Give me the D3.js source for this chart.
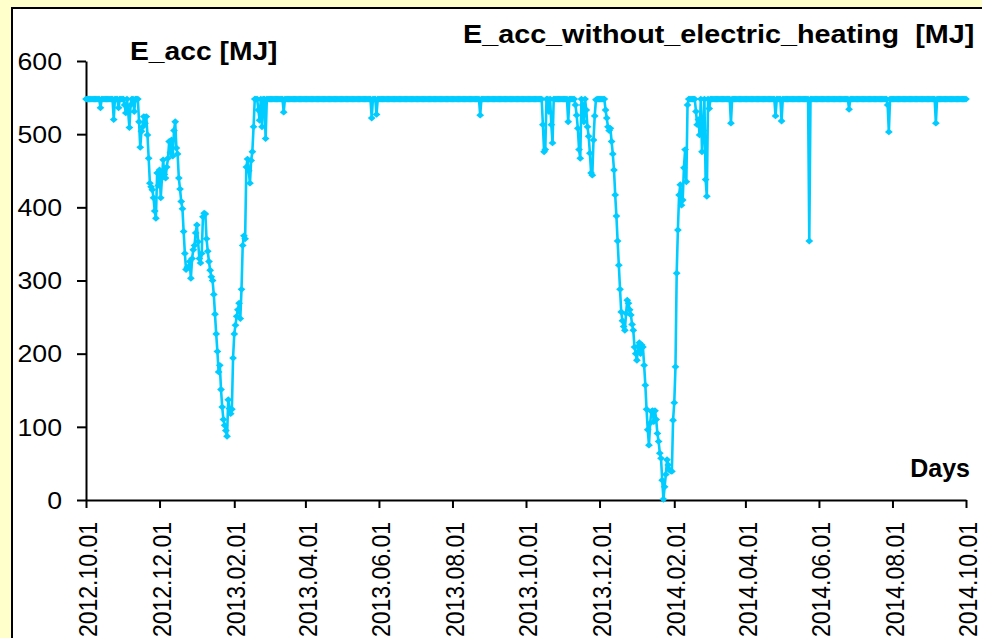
<!DOCTYPE html>
<html>
<head>
<meta charset="utf-8">
<script src="https://cdn.jsdelivr.net/npm/d3@7"></script>
<style>
  html, body { margin: 0; padding: 0; background: #ffffcc; overflow: hidden; }
  text { font-family: "Liberation Sans", Arial, sans-serif; fill: #000; }
</style>
</head>
<body>
<div id="chart"></div>
<script>
// daily E_acc values [MJ], one array per month, first day 2012-10-01
const START = '2012-10-01'

const oct2012 = [548,548,548,548,548,548,548,548,548,548, 548,548,536,548,548,548,548,548,548,548, 548,548,548,520,548,548,548,536,548,548, 548]
const nov2012 = [548,540,529,548,530,509,540,548,548,531, 548,548,548,517,482,504,510,524,515,524, 499,467,433,428,424,413,395,385,447,430]
const dec2012 = [451,413,440,465,445,440,455,467,490,475, 492,470,505,517,481,473,440,425,408,398, 367,337,315,318,318,326,303,330,342,348, 365]
const jan2013 = [376,353,330,324,337,387,392,391,357,340, 326,314,305,300,281,254,227,203,175,184, 151,127,110,102,95,87,137,125,118,124, 194]
const feb2013 = [227,239,251,260,269,248,288,348,361,357, 455,466,450,433,464,476,510,548,548,548, 533,519,548,510,548,548,494,548]
const mar2013 = [548,548,548,548,548,548,548,548,548,548, 548,548,548,530,548,548,548,548,548,548, 548,548,548,548,548,548,548,548,548,548, 548]
const apr2013 = [548,548,548,548,548,548,548,548,548,548, 548,548,548,548,548,548,548,548,548,548, 548,548,548,548,548,548,548,548,548,548]
const may2013 = [548,548,548,548,548,548,548,548,548,548, 548,548,548,548,548,548,548,548,548,548, 548,548,548,548,548,522,548,548,548,527, 548]
const jun2013 = [548,548,548,548,548,548,548,548,548,548, 548,548,548,548,548,548,548,548,548,548, 548,548,548,548,548,548,548,548,548,548]
const jul2013 = [548,548,548,548,548,548,548,548,548,548, 548,548,548,548,548,548,548,548,548,548, 548,548,548,548,548,548,548,548,548,548, 548]
const aug2013 = [548,548,548,548,548,548,548,548,548,548, 548,548,548,548,548,548,548,548,548,548, 548,548,548,526,548,548,548,548,548,548, 548]
const sep2013 = [548,548,548,548,548,548,548,548,548,548, 548,548,548,548,548,548,548,548,548,548, 548,548,548,548,548,548,548,548,548,548]
const oct2013 = [548,548,548,548,548,548,548,548,548,548, 548,548,548,548,513,476,479,548,548,531, 548,513,488,548,548,548,548,548,548,548, 548]
const nov2013 = [548,548,548,548,517,548,548,548,548,548, 540,526,508,479,467,548,540,517,548,533, 510,497,474,447,444,492,525,547,548,548]
const dec2013 = [548,548,548,548,548,533,522,510,505,508, 490,473,451,417,388,354,321,288,257,245, 237,232,255,273,269,260,253,240,232,209, 200]
const jan2014 = [191,210,215,200,212,209,184,157,124,96, 75,105,121,122,107,122,110,91,80,64, 57,27,1,18,35,55,48,41,40,39, 109]
const feb2014 = [133,182,310,369,417,431,403,410,454,479, 435,540,548,548,548,548,548,548,531,513, 520,499,548,476,505,548,438,415]
const mar2014 = [548,535,548,548,548,548,548,548,548,548, 548,548,548,548,548,548,548,548,548,515, 548,548,548,548,548,548,548,548,548,548, 548]
const apr2014 = [548,548,548,548,548,548,548,548,548,548, 548,548,548,548,548,548,548,548,548,548, 548,548,548,548,548,525,548,548,548,548]
const may2014 = [518,548,548,548,548,548,548,548,548,548, 548,548,548,548,548,548,548,548,548,548, 548,548,548,354,548,548,548,548,548,548, 548]
const jun2014 = [548,548,548,548,548,548,548,548,548,548, 548,548,548,548,548,548,548,548,548,548, 548,548,548,548,548,534,548,548,548,548]
const jul2014 = [548,548,548,548,548,548,548,548,548,548, 548,548,548,548,548,548,548,548,548,548, 548,548,548,548,548,548,548,540,503,548, 548]
const aug2014 = [548,548,548,548,548,548,548,548,548,548, 548,548,548,548,548,548,548,548,548,548, 548,548,548,548,548,548,548,548,548,548, 548]
const sep2014 = [548,548,548,548,548,515,548,548,548,548, 548,548,548,548,548,548,548,548,548,548, 548,548,548,548,548,548,548,548,548,548]
const oct2014 = [548]

const months = [oct2012, nov2012, dec2012, jan2013, feb2013, mar2013, apr2013, may2013,
  jun2013, jul2013, aug2013, sep2013, oct2013, nov2013, dec2013, jan2014, feb2014,
  mar2014, apr2014, may2014, jun2014, jul2014, aug2014, sep2014, oct2014]

const xTickLabels = ['2012.10.01', '2012.12.01', '2013.02.01', '2013.04.01', '2013.06.01',
  '2013.08.01', '2013.10.01', '2013.12.01', '2014.02.01', '2014.04.01', '2014.06.01',
  '2014.08.01', '2014.10.01']
const yTicks = [0, 100, 200, 300, 400, 500, 600]

const WIDTH = 982
const HEIGHT = 638
const COLOR = '#00ccff'
const SX = 1.16   // the glyphs in the original are a bit wide

const parseDay = d3.utcParse('%Y-%m-%d')
const parseTick = d3.utcParse('%Y.%m.%d')
const fmtTick = d3.utcFormat('%Y.%m.%d')

const start = parseDay(START)
const data = months.flat().map((v, i) => ({ date: d3.utcDay.offset(start, i), value: v }))
const tickDates = xTickLabels.map(parseTick)

const svg = d3.select('#chart')
  .append('svg')
  .attr('width', WIDTH)
  .attr('height', HEIGHT)

// white chart area with black frame
svg.append('rect')
  .attr('x', 12).attr('y', 8)
  .attr('width', WIDTH + 20).attr('height', HEIGHT + 20)
  .attr('fill', '#fff')
  .attr('stroke', '#000')
  .attr('stroke-width', 2)

const x = d3.scaleUtc()
  .domain([tickDates[0], tickDates[tickDates.length - 1]])
  .range([86, 966])

const y = d3.scaleLinear()
  .domain([0, 600])
  .range([500, 61])

// y axis
const gy = svg.append('g')
  .attr('transform', 'translate(86,0)')
  .call(d3.axisLeft(y).tickValues(yTicks).tickSize(9).tickSizeOuter(0))
gy.selectAll('path, line').attr('stroke', '#000').attr('stroke-width', 2)
gy.selectAll('text')
  .attr('x', null).attr('dy', null)
  .attr('font-size', 23)
  .attr('font-family', '"Liberation Sans", Arial, sans-serif')
  .attr('dominant-baseline', 'central')
  .attr('text-anchor', 'end')
  .attr('transform', `translate(-24,0) scale(${SX},1)`)

// x axis
const gx = svg.append('g')
  .attr('transform', 'translate(0,500)')
  .call(d3.axisBottom(x).tickValues(tickDates).tickFormat(fmtTick).tickSize(8).tickSizeOuter(0))
gx.selectAll('path, line').attr('stroke', '#000').attr('stroke-width', 2)
gx.selectAll('text')
  .attr('y', null).attr('dy', null)
  .attr('font-size', 23)
  .attr('font-family', '"Liberation Sans", Arial, sans-serif')
  .attr('dominant-baseline', 'central')
  .attr('text-anchor', 'end')
  .attr('transform', `translate(1,22) scale(${SX},1) rotate(-90)`)

// series
const line = d3.line()
  .x(d => x(d.date))
  .y(d => y(d.value))

svg.append('path')
  .datum(data)
  .attr('fill', 'none')
  .attr('stroke', COLOR)
  .attr('stroke-width', 2.6)
  .attr('stroke-linejoin', 'round')
  .attr('d', line)

svg.append('g')
  .selectAll('path')
  .data(data)
  .enter()
  .append('path')
    .attr('d', 'M0,-3.4L3.9,0L0,3.4L-3.9,0Z')
    .attr('fill', COLOR)
    .attr('transform', d => `translate(${x(d.date)},${y(d.value)})`)

// titles
const label = (txt, tx, ty, anchor, sx) => {
  svg.append('text')
    .attr('transform', `translate(${tx},${ty}) scale(${sx},1)`)
    .attr('text-anchor', anchor)
    .attr('font-size', 25)
    .attr('font-weight', 'bold')
    .text(txt)
}
label('E_acc [MJ]', 130, 60, 'start', 1.13)
label('E_acc_without_electric_heating\u00a0\u00a0[MJ]', 463, 43, 'start', 1.15)
label('Days', 970, 477, 'end', 1.0)
</script>
</body>
</html>
